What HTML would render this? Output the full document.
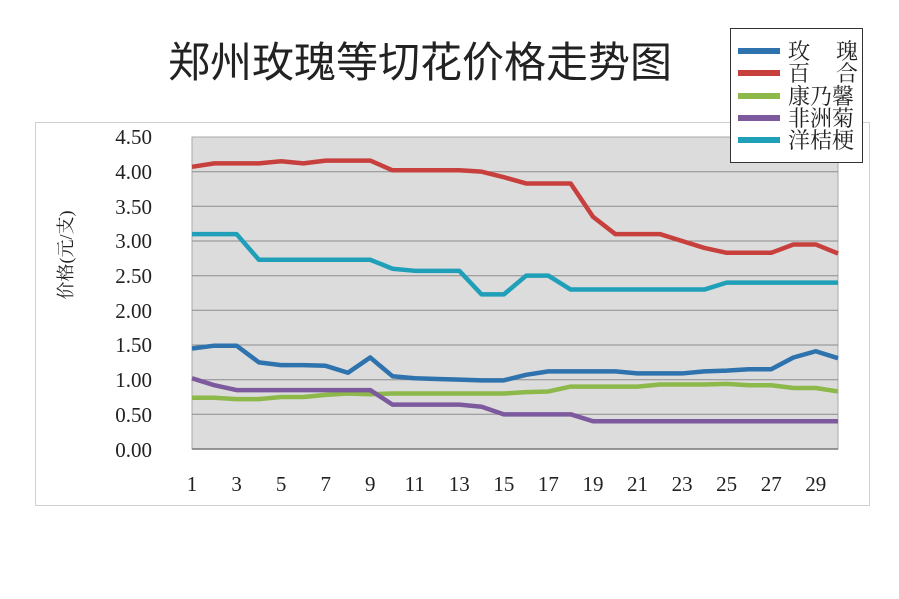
<!DOCTYPE html>
<html><head><meta charset="utf-8"><style>
html,body{margin:0;padding:0;background:#fff;}
svg{display:block;}
text{font-family:"Liberation Serif","Noto Serif CJK SC",serif;fill:#222;}
</style></head><body>
<svg width="899" height="599" viewBox="0 0 899 599" xmlns="http://www.w3.org/2000/svg">
<rect x="0" y="0" width="899" height="599" fill="#fff"/>
<text x="420" y="77" font-size="42" text-anchor="middle" style="font-family:'Liberation Sans','Noto Sans CJK SC',sans-serif" fill="#111">郑州玫瑰等切花价格走势图</text>
<rect x="35.5" y="122.5" width="834" height="383" fill="#fff" stroke="#d0d0d0"/>
<rect x="192" y="137" width="646" height="312" fill="#dcdcdc" stroke="#aaa" stroke-width="1"/>
<g stroke="#8c8c8c" stroke-width="1">
<line x1="192" x2="838" y1="171.7" y2="171.7"/>
<line x1="192" x2="838" y1="206.3" y2="206.3"/>
<line x1="192" x2="838" y1="241" y2="241"/>
<line x1="192" x2="838" y1="275.7" y2="275.7"/>
<line x1="192" x2="838" y1="310.3" y2="310.3"/>
<line x1="192" x2="838" y1="345" y2="345"/>
<line x1="192" x2="838" y1="379.7" y2="379.7"/>
<line x1="192" x2="838" y1="414.3" y2="414.3"/>
</g>
<line x1="192" x2="838" y1="449" y2="449" stroke="#777" stroke-width="1.5"/>
<g font-size="21" text-anchor="end">
<text x="152" y="144">4.50</text><text x="152" y="179">4.00</text><text x="152" y="214">3.50</text>
<text x="152" y="248">3.00</text><text x="152" y="283">2.50</text><text x="152" y="318">2.00</text>
<text x="152" y="352">1.50</text><text x="152" y="387">1.00</text><text x="152" y="422">0.50</text>
<text x="152" y="457">0.00</text>
</g>
<g font-size="21" text-anchor="middle">
<text x="192" y="491">1</text><text x="236.6" y="491">3</text><text x="281.1" y="491">5</text><text x="325.7" y="491">7</text>
<text x="370.2" y="491">9</text><text x="414.8" y="491">11</text><text x="459.3" y="491">13</text><text x="503.9" y="491">15</text>
<text x="548.4" y="491">17</text><text x="593" y="491">19</text><text x="637.5" y="491">21</text><text x="682.1" y="491">23</text>
<text x="726.6" y="491">25</text><text x="771.2" y="491">27</text><text x="815.7" y="491">29</text>
</g>
<text transform="translate(72,255) rotate(-90)" font-size="18" text-anchor="middle">价格(元/支)</text>
<g transform="translate(192,449) scale(22.276,-69.33)" fill="none" stroke-width="4.5" stroke-linejoin="round">
<polyline vector-effect="non-scaling-stroke" stroke="#c8403e" points="0,4.07 1,4.12 2,4.12 3,4.12 4,4.15 5,4.12 6,4.16 7,4.16 8,4.16 9,4.02 10,4.02 11,4.02 12,4.02 13,4.0 14,3.92 15,3.83 16,3.83 17,3.83 18,3.35 19,3.1 20,3.1 21,3.1 22,3.0 23,2.9 24,2.83 25,2.83 26,2.83 27,2.95 28,2.95 29,2.82"/>
<polyline vector-effect="non-scaling-stroke" stroke="#1f9fb8" points="0,3.1 1,3.1 2,3.1 3,2.73 4,2.73 5,2.73 6,2.73 7,2.73 8,2.73 9,2.6 10,2.57 11,2.57 12,2.57 13,2.23 14,2.23 15,2.5 16,2.5 17,2.3 18,2.3 19,2.3 20,2.3 21,2.3 22,2.3 23,2.3 24,2.4 25,2.4 26,2.4 27,2.4 28,2.4 29,2.4"/>
<polyline vector-effect="non-scaling-stroke" stroke="#2e72ae" points="0,1.45 1,1.49 2,1.49 3,1.25 4,1.21 5,1.21 6,1.2 7,1.1 8,1.32 9,1.05 10,1.02 11,1.01 12,1.0 13,0.99 14,0.99 15,1.07 16,1.12 17,1.12 18,1.12 19,1.12 20,1.09 21,1.09 22,1.09 23,1.12 24,1.13 25,1.15 26,1.15 27,1.32 28,1.41 29,1.31"/>
<polyline vector-effect="non-scaling-stroke" stroke="#8db84a" points="0,0.74 1,0.74 2,0.72 3,0.72 4,0.75 5,0.75 6,0.78 7,0.8 8,0.79 9,0.8 10,0.8 11,0.8 12,0.8 13,0.8 14,0.8 15,0.82 16,0.83 17,0.9 18,0.9 19,0.9 20,0.9 21,0.93 22,0.93 23,0.93 24,0.94 25,0.92 26,0.92 27,0.88 28,0.88 29,0.83"/>
<polyline vector-effect="non-scaling-stroke" stroke="#7d5a9e" points="0,1.02 1,0.92 2,0.85 3,0.85 4,0.85 5,0.85 6,0.85 7,0.85 8,0.85 9,0.64 10,0.64 11,0.64 12,0.64 13,0.61 14,0.5 15,0.5 16,0.5 17,0.5 18,0.4 19,0.4 20,0.4 21,0.4 22,0.4 23,0.4 24,0.4 25,0.4 26,0.4 27,0.4 28,0.4 29,0.4"/>
</g>
<rect x="730.5" y="28.5" width="132" height="134" fill="#fff" stroke="#333" stroke-width="1"/>
<g stroke-width="6">
<line x1="738" x2="780" y1="51" y2="51" stroke="#2e72ae"/>
<line x1="738" x2="780" y1="73" y2="73" stroke="#c8403e"/>
<line x1="738" x2="780" y1="96" y2="96" stroke="#8db84a"/>
<line x1="738" x2="780" y1="118" y2="118" stroke="#7d5a9e"/>
<line x1="738" x2="780" y1="140" y2="140" stroke="#1f9fb8"/>
</g>
<g font-size="22">
<text x="788" y="59">玫</text><text x="836" y="59">瑰</text>
<text x="788" y="81">百</text><text x="836" y="81">合</text>
<text x="788" y="104">康乃馨</text>
<text x="788" y="126">非洲菊</text>
<text x="788" y="148">洋桔梗</text>
</g>
</svg>
</body></html>
